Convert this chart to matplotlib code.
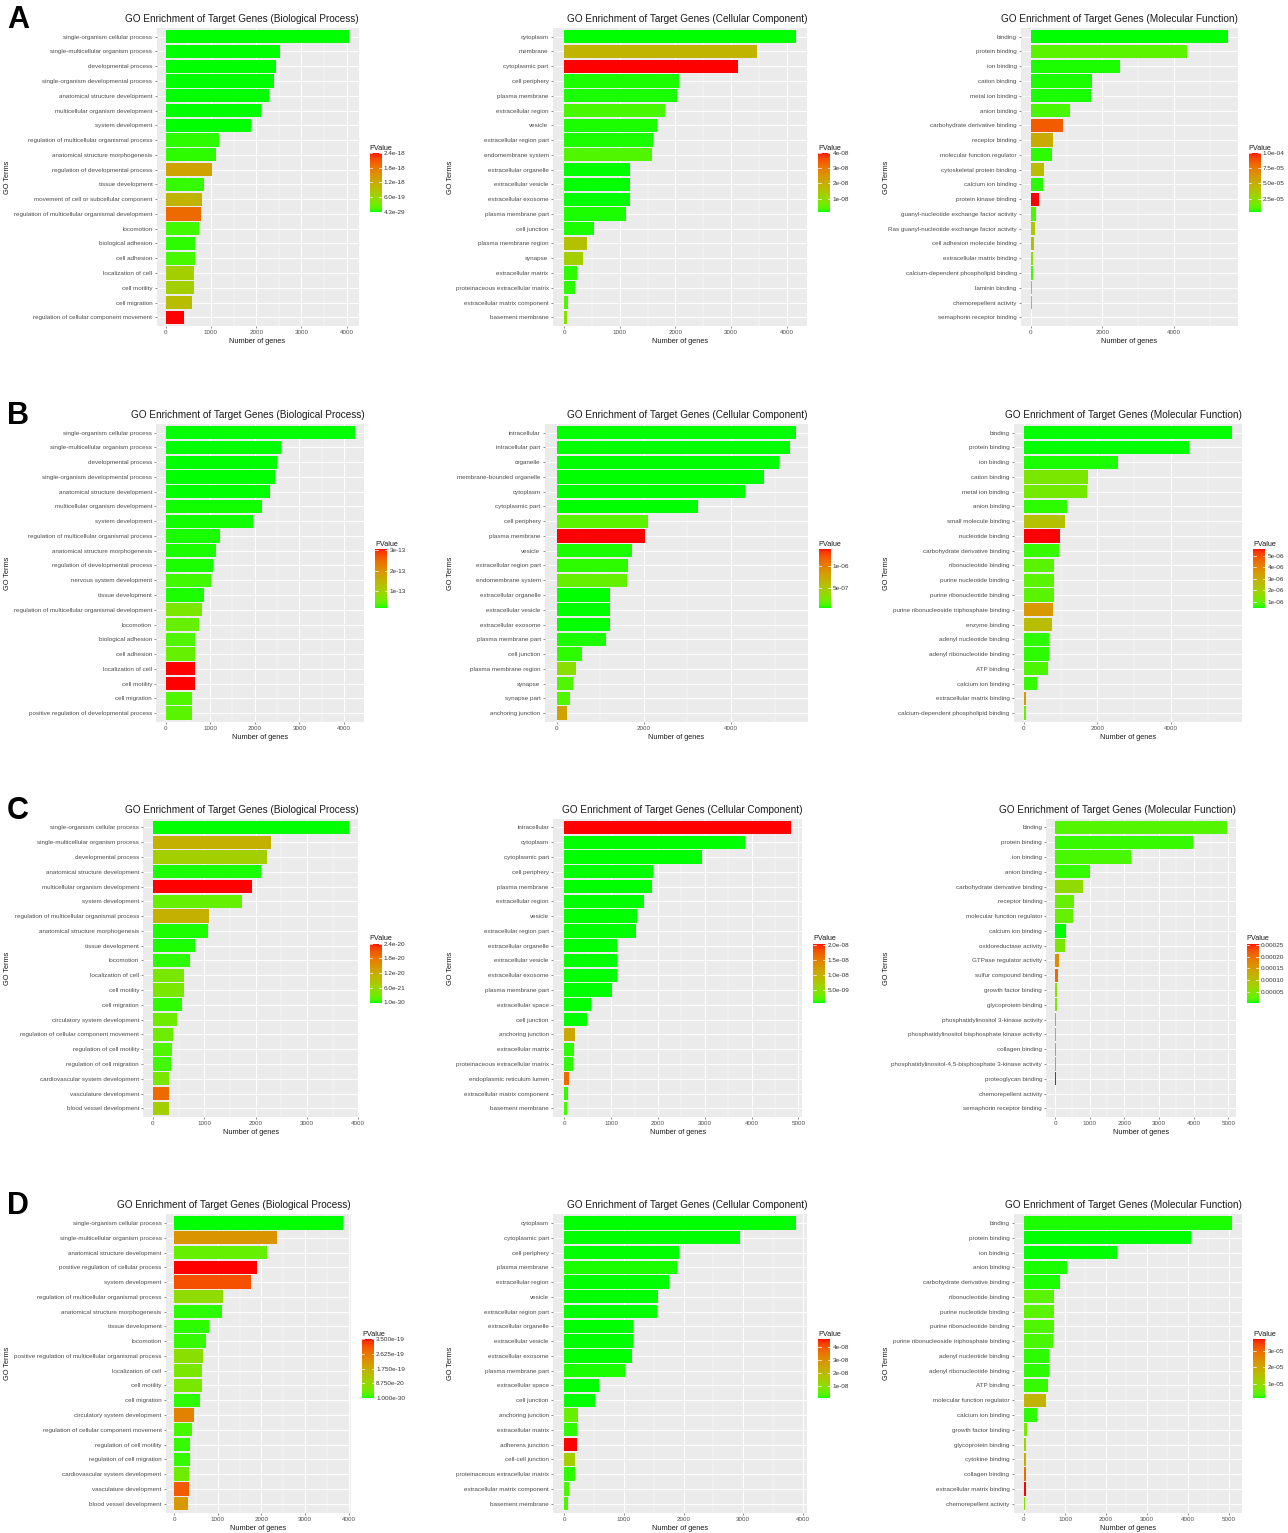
import numpy as np
import matplotlib
matplotlib.use('Agg')
import matplotlib.pyplot as plt
from matplotlib.colors import ListedColormap, Normalize
from matplotlib.cm import ScalarMappable
from matplotlib.ticker import MultipleLocator

plt.rcParams['font.family'] = ['Liberation Sans', 'DejaVu Sans']

# ---------------- data ----------------
# row A
a_bp_terms = ['single-organism cellular process', 'single-multicellular organism process', 'developmental process',
              'single-organism developmental process', 'anatomical structure development',
              'multicellular organism development', 'system development',
              'regulation of multicellular organismal process', 'anatomical structure morphogenesis',
              'regulation of developmental process', 'tissue development',
              'movement of cell or subcellular component', 'regulation of multicellular organismal development',
              'locomotion', 'biological adhesion', 'cell adhesion', 'localization of cell', 'cell motility',
              'cell migration', 'regulation of cellular component movement']
a_bp_genes = [4059, 2527, 2431, 2394, 2276, 2099, 1878, 1179, 1112, 1017, 847, 810, 788, 737, 648, 640, 636, 634, 582, 398]
a_bp_pvalue = [4.3e-29, 2.6e-27, 1.9e-26, 8.4e-26, 3.3e-25, 1.2e-24, 6.7e-23, 4.8e-20, 4.8e-20, 1.32e-18,
               7.2e-20, 1.08e-18, 1.92e-18, 9.6e-20, 4.8e-20, 1.2e-19, 7.2e-19, 7.2e-19, 9.6e-19, 2.4e-18]
a_bp_pticks = [2.4e-18, 1.8e-18, 1.2e-18, 6.0e-19, 4.3e-29]
a_bp_plabels = ['2.4e-18', '1.8e-18', '1.2e-18', '6.0e-19', '4.3e-29']

a_cc_terms = ['cytoplasm', 'membrane', 'cytoplasmic part', 'cell periphery', 'plasma membrane', 'extracellular region',
              'vesicle', 'extracellular region part', 'endomembrane system', 'extracellular organelle',
              'extracellular vesicle', 'extracellular exosome', 'plasma membrane part', 'cell junction',
              'plasma membrane region', 'synapse', 'extracellular matrix', 'proteinaceous extracellular matrix',
              'extracellular matrix component', 'basement membrane']
a_cc_genes = [4162, 3472, 3130, 2063, 2021, 1817, 1673, 1601, 1571, 1187, 1186, 1185, 1109, 540, 414, 342, 228, 192, 66, 54]
a_cc_pvalue = [1.3e-09, 1.87e-08, 4.0e-08, 1.7e-09, 1.7e-09, 3.2e-09, 1.7e-09, 1.7e-09, 3.6e-09, 1.31e-09,
               1.31e-09, 1.31e-09, 1.7e-09, 1.7e-09, 1.6e-08, 1.29e-08, 2.1e-09, 2.1e-09, 3.6e-09, 9.0e-09]
a_cc_pticks = [4e-08, 3e-08, 2e-08, 1e-08]
a_cc_plabels = ['4e-08', '3e-08', '2e-08', '1e-08']

a_mf_terms = ['binding', 'protein binding', 'ion binding', 'cation binding', 'metal ion binding', 'anion binding',
              'carbohydrate derivative binding', 'receptor binding', 'molecular function regulator',
              'cytoskeletal protein binding', 'calcium ion binding', 'protein kinase binding',
              'guanyl-nucleotide exchange factor activity', 'Ras guanyl-nucleotide exchange factor activity',
              'cell adhesion molecule binding', 'extracellular matrix binding',
              'calcium-dependent phospholipid binding', 'laminin binding', 'chemorepellent activity',
              'semaphorin receptor binding']
a_mf_genes = [5485, 4343, 2487, 1717, 1680, 1095, 891, 613, 585, 381, 353, 241, 158, 130, 93, 58, 52, 28, 27, 19]
a_mf_pvalue = [3.6e-06, 1.13e-05, 4.6e-06, 4.6e-06, 4.6e-06, 8.4e-06, 8.55e-05, 5.18e-05, 5.5e-06, 4.22e-05,
               5.5e-06, 1.0e-04, 8.4e-06, 3.73e-05, 4.22e-05, 2.29e-05, 8.4e-06, 3.25e-05, 3.25e-05, 3.73e-05]
a_mf_pticks = [1.0e-04, 7.5e-05, 5.0e-05, 2.5e-05]
a_mf_plabels = ['1.0e-04', '7.5e-05', '5.0e-05', '2.5e-05']

# row B
b_bp_terms = ['single-organism cellular process', 'single-multicellular organism process', 'developmental process',
              'single-organism developmental process', 'anatomical structure development',
              'multicellular organism development', 'system development',
              'regulation of multicellular organismal process', 'anatomical structure morphogenesis',
              'regulation of developmental process', 'nervous system development', 'tissue development',
              'regulation of multicellular organismal development', 'locomotion', 'biological adhesion',
              'cell adhesion', 'localization of cell', 'cell motility', 'cell migration',
              'positive regulation of developmental process']
b_bp_genes = [4247, 2579, 2490, 2452, 2340, 2153, 1951, 1219, 1129, 1054, 1009, 860, 807, 748, 652, 650, 650, 649, 598, 583]
b_bp_pvalue = [1.50e-14, 1.52e-14, 1.55e-14, 1.6e-14, 1.6e-14, 1.7e-14, 1.7e-14, 1.8e-14, 1.8e-14, 1.8e-14,
               2.7e-14, 1.8e-14, 5.9e-14, 4.4e-14, 3.3e-14, 4.4e-14, 3.08e-13, 3.08e-13, 3.3e-14, 3.8e-14]
b_bp_pticks = [3e-13, 2e-13, 1e-13]
b_bp_plabels = ['3e-13', '2e-13', '1e-13']

b_cc_terms = ['intracellular', 'intracellular part', 'organelle', 'membrane-bounded organelle', 'cytoplasm',
              'cytoplasmic part', 'cell periphery', 'plasma membrane', 'vesicle', 'extracellular region part',
              'endomembrane system', 'extracellular organelle', 'extracellular vesicle', 'extracellular exosome',
              'plasma membrane part', 'cell junction', 'plasma membrane region', 'synapse', 'synapse part',
              'anchoring junction']
b_cc_genes = [5484, 5354, 5094, 4765, 4314, 3250, 2088, 2034, 1721, 1629, 1606, 1231, 1230, 1229, 1124, 574, 436, 367, 306, 245]
b_cc_pvalue = [6.0e-08, 6.0e-08, 6.1e-08, 6.1e-08, 6.2e-08, 6.2e-08, 1.66e-07, 1.38e-06, 7.3e-08, 8.6e-08,
               1.92e-07, 6.1e-08, 6.1e-08, 6.1e-08, 7.3e-08, 8.6e-08, 3.24e-07, 1.39e-07, 1.39e-07, 7.86e-07]
b_cc_pticks = [1e-06, 5e-07]
b_cc_plabels = ['1e-06', '5e-07']

b_mf_terms = ['binding', 'protein binding', 'ion binding', 'cation binding', 'metal ion binding', 'anion binding',
              'small molecule binding', 'nucleotide binding', 'carbohydrate derivative binding',
              'ribonucleotide binding', 'purine nucleotide binding', 'purine ribonucleotide binding',
              'purine ribonucleoside triphosphate binding', 'enzyme binding', 'adenyl nucleotide binding',
              'adenyl ribonucleotide binding', 'ATP binding', 'calcium ion binding', 'extracellular matrix binding',
              'calcium-dependent phospholipid binding']
b_mf_genes = [5660, 4499, 2558, 1751, 1705, 1170, 1116, 989, 961, 818, 816, 814, 780, 762, 689, 671, 653, 345, 46, 44]
b_mf_pvalue = [5.0e-07, 5.1e-07, 5.5e-07, 1.27e-06, 1.16e-06, 6.0e-07, 2.44e-06, 5.6e-06, 6.5e-07, 9.1e-07,
               9.1e-07, 9.1e-07, 3.56e-06, 2.54e-06, 6.0e-07, 6.0e-07, 7.6e-07, 6.5e-07, 3.56e-06, 1.01e-06]
b_mf_pticks = [5e-06, 4e-06, 3e-06, 2e-06, 1e-06]
b_mf_plabels = ['5e-06', '4e-06', '3e-06', '2e-06', '1e-06']

# row C
c_bp_terms = ['single-organism cellular process', 'single-multicellular organism process', 'developmental process',
              'anatomical structure development', 'multicellular organism development', 'system development',
              'regulation of multicellular organismal process', 'anatomical structure morphogenesis',
              'tissue development', 'locomotion', 'localization of cell', 'cell motility', 'cell migration',
              'circulatory system development', 'regulation of cellular component movement',
              'regulation of cell motility', 'regulation of cell migration', 'cardiovascular system development',
              'vasculature development', 'blood vessel development']
c_bp_genes = [3818, 2305, 2227, 2097, 1922, 1727, 1097, 1065, 818, 714, 612, 610, 571, 461, 396, 364, 344, 320, 318, 312]
c_bp_pvalue = [1.0e-30, 1.13e-20, 7.2e-21, 2.4e-22, 2.4e-20, 2.4e-21, 1.13e-20, 2.4e-22, 2.4e-22, 4.8e-22,
               3.6e-21, 3.6e-21, 4.8e-22, 2.9e-21, 2.9e-21, 1.44e-21, 9.6e-22, 3.6e-21, 1.92e-20, 7.2e-21]
c_bp_pticks = [2.4e-20, 1.8e-20, 1.2e-20, 6.0e-21, 1.0e-30]
c_bp_plabels = ['2.4e-20', '1.8e-20', '1.2e-20', '6.0e-21', '1.0e-30']

c_cc_terms = ['intracellular', 'cytoplasm', 'cytoplasmic part', 'cell periphery', 'plasma membrane',
              'extracellular region', 'vesicle', 'extracellular region part', 'extracellular organelle',
              'extracellular vesicle', 'extracellular exosome', 'plasma membrane part', 'extracellular space',
              'cell junction', 'anchoring junction', 'extracellular matrix', 'proteinaceous extracellular matrix',
              'endoplasmic reticulum lumen', 'extracellular matrix component', 'basement membrane']
c_cc_genes = [4843, 3860, 2934, 1902, 1866, 1709, 1546, 1524, 1133, 1132, 1131, 1011, 563, 491, 221, 214, 178, 93, 71, 50]
c_cc_pvalue = [2.06e-08, 7.0e-10, 7.0e-10, 7.1e-10, 7.1e-10, 7.1e-10, 7.2e-10, 7.2e-10, 7.0e-10, 7.0e-10,
               7.0e-10, 7.3e-10, 7.2e-10, 7.3e-10, 1.105e-08, 1.1e-09, 1.1e-09, 1.66e-08, 1.3e-09, 1.7e-09]
c_cc_pticks = [2.0e-08, 1.5e-08, 1.0e-08, 5.0e-09]
c_cc_plabels = ['2.0e-08', '1.5e-08', '1.0e-08', '5.0e-09']

c_mf_terms = ['binding', 'protein binding', 'ion binding', 'anion binding', 'carbohydrate derivative binding',
              'receptor binding', 'molecular function regulator', 'calcium ion binding', 'oxidoreductase activity',
              'GTPase regulator activity', 'sulfur compound binding', 'growth factor binding',
              'glycoprotein binding', 'phosphatidylinositol 3-kinase activity',
              'phosphatidylinositol bisphosphate kinase activity', 'collagen binding',
              'phosphatidylinositol-4,5-bisphosphate 3-kinase activity', 'proteoglycan binding',
              'chemorepellent activity', 'semaphorin receptor binding']
c_mf_genes = [4962, 3971, 2192, 1000, 817, 558, 510, 317, 288, 125, 96, 58, 56, 38, 30, 29, 28, 19, 10, 10]
c_mf_pvalue = [2.13e-05, 1.12e-05, 1.63e-05, 1.12e-05, 5.93e-05, 2.89e-05, 2.89e-05, 3.6e-06, 4.16e-05, 1.68e-04,
               2.06e-04, 5.42e-05, 4.16e-05, 1.30e-04, 1.17e-04, 1.30e-04, 1.30e-04, 2.57e-04, 5.42e-05, 4.16e-05]
c_mf_pticks = [0.00025, 0.00020, 0.00015, 0.00010, 0.00005]
c_mf_plabels = ['0.00025', '0.00020', '0.00015', '0.00010', '0.00005']

# row D
d_bp_terms = ['single-organism cellular process', 'single-multicellular organism process',
              'anatomical structure development', 'positive regulation of cellular process', 'system development',
              'regulation of multicellular organismal process', 'anatomical structure morphogenesis',
              'tissue development', 'locomotion', 'positive regulation of multicellular organismal process',
              'localization of cell', 'cell motility', 'cell migration', 'circulatory system development',
              'regulation of cellular component movement', 'regulation of cell motility',
              'regulation of cell migration', 'cardiovascular system development', 'vasculature development',
              'blood vessel development']
d_bp_genes = [3855, 2347, 2133, 1890, 1752, 1128, 1105, 808, 724, 663, 634, 632, 594, 465, 411, 373, 366, 336, 335, 328]
d_bp_pvalue = [1.0e-30, 2.17e-19, 3.5e-20, 3.5e-19, 3.08e-19, 7.7e-20, 7.0e-21, 7.0e-21, 1.05e-20, 7.0e-20,
               5.25e-20, 5.25e-20, 7.0e-21, 2.45e-19, 1.75e-20, 1.05e-20, 1.05e-20, 4.2e-20, 2.98e-19, 2.1e-19]
d_bp_pticks = [3.5e-19, 2.625e-19, 1.75e-19, 8.75e-20, 1.0e-30]
d_bp_plabels = ['3.500e-19', '2.625e-19', '1.750e-19', '8.750e-20', '1.000e-30']

d_cc_terms = ['cytoplasm', 'cytoplasmic part', 'cell periphery', 'plasma membrane', 'extracellular region',
              'vesicle', 'extracellular region part', 'extracellular organelle', 'extracellular vesicle',
              'extracellular exosome', 'plasma membrane part', 'extracellular space', 'cell junction',
              'anchoring junction', 'extracellular matrix', 'adherens junction', 'cell-cell junction',
              'proteinaceous extracellular matrix', 'extracellular matrix component', 'basement membrane']
d_cc_genes = [3883, 2948, 1930, 1885, 1762, 1572, 1550, 1147, 1146, 1141, 1024, 576, 509, 229, 218, 217, 186, 185, 73, 56]
d_cc_pvalue = [1.0e-09, 1.0e-09, 1.0e-09, 1.5e-09, 1.0e-09, 1.0e-09, 1.0e-09, 1.0e-09, 1.0e-09, 1.0e-09,
               1.5e-09, 1.0e-09, 1.0e-09, 5.5e-09, 1.9e-09, 4.6e-08, 1.45e-08, 1.9e-09, 3.3e-09, 3.3e-09]
d_cc_pticks = [4e-08, 3e-08, 2e-08, 1e-08]
d_cc_plabels = ['4e-08', '3e-08', '2e-08', '1e-08']

d_mf_terms = ['binding', 'protein binding', 'ion binding', 'anion binding', 'carbohydrate derivative binding',
              'ribonucleotide binding', 'purine nucleotide binding', 'purine ribonucleotide binding',
              'purine ribonucleoside triphosphate binding', 'adenyl nucleotide binding',
              'adenyl ribonucleotide binding', 'ATP binding', 'molecular function regulator', 'calcium ion binding',
              'growth factor binding', 'glycoprotein binding', 'cytokine binding', 'collagen binding',
              'extracellular matrix binding', 'chemorepellent activity']
d_mf_genes = [5073, 4073, 2260, 1049, 886, 734, 732, 730, 715, 618, 602, 585, 545, 325, 65, 57, 49, 42, 41, 16]
d_mf_pvalue = [1.8e-06, 1.4e-06, 1.4e-06, 1.8e-06, 1.8e-06, 4.2e-06, 4.2e-06, 3.5e-06, 3.2e-06, 2.1e-06,
               2.1e-06, 2.5e-06, 1.74e-05, 2.1e-06, 6.7e-06, 1.03e-05, 1.92e-05, 2.99e-05, 3.7e-05, 8.5e-06]
d_mf_pticks = [3e-05, 2e-05, 1e-05]
d_mf_plabels = ['3e-05', '2e-05', '1e-05']

titles = ['GO Enrichment of Target Genes (Biological Process)',
          'GO Enrichment of Target Genes (Cellular Component)',
          'GO Enrichment of Target Genes (Molecular Function)']
row_letters = ['A', 'B', 'C', 'D']

# ---------------- layout (pixels) ----------------
W, H = 1288, 1533
row_pos = [(19.3, 27.8, 326.2), (415, 423.8, 721.9), (810, 818.5, 1117.2), (1205, 1214.1, 1512.5)]
col_pos = [[(156.5, 358.5), (552.7, 807.3), (1020.8, 1237.5)],
           [(156.2, 364.3), (544.7, 807.7), (1013.6, 1242.3)],
           [(143.2, 358.7), (553.0, 802.3), (1046.4, 1235.6)],
           [(165.6, 351.0), (552.8, 807.3), (1013.6, 1242.3)]]
ylab_x = [8, 451, 886]
steps = [[1000, 1000, 2000], [1000, 2000, 2000], [1000, 1000, 1000], [1000, 1000, 1000]]

panels = [
    [(a_bp_terms, a_bp_genes, a_bp_pvalue, a_bp_pticks, a_bp_plabels),
     (a_cc_terms, a_cc_genes, a_cc_pvalue, a_cc_pticks, a_cc_plabels),
     (a_mf_terms, a_mf_genes, a_mf_pvalue, a_mf_pticks, a_mf_plabels)],
    [(b_bp_terms, b_bp_genes, b_bp_pvalue, b_bp_pticks, b_bp_plabels),
     (b_cc_terms, b_cc_genes, b_cc_pvalue, b_cc_pticks, b_cc_plabels),
     (b_mf_terms, b_mf_genes, b_mf_pvalue, b_mf_pticks, b_mf_plabels)],
    [(c_bp_terms, c_bp_genes, c_bp_pvalue, c_bp_pticks, c_bp_plabels),
     (c_cc_terms, c_cc_genes, c_cc_pvalue, c_cc_pticks, c_cc_plabels),
     (c_mf_terms, c_mf_genes, c_mf_pvalue, c_mf_pticks, c_mf_plabels)],
    [(d_bp_terms, d_bp_genes, d_bp_pvalue, d_bp_pticks, d_bp_plabels),
     (d_cc_terms, d_cc_genes, d_cc_pvalue, d_cc_pticks, d_cc_plabels),
     (d_mf_terms, d_mf_genes, d_mf_pvalue, d_mf_pticks, d_mf_plabels)],
]


# green -> red gradient interpolated in Lab space, like ggplot's scale_fill_gradient
def lab_gradient(c0, c1, n=256):
    M = np.array([[0.4124, 0.3576, 0.1805], [0.2126, 0.7152, 0.0722], [0.0193, 0.1192, 0.9505]])
    wp = np.array([0.95047, 1.0, 1.08883])
    d = 6 / 29

    def to_lab(rgb):
        rgb = np.asarray(rgb, float)
        lin = np.where(rgb <= 0.04045, rgb / 12.92, ((rgb + 0.055) / 1.055) ** 2.4)
        xyz = M @ lin / wp
        f = np.where(xyz > d ** 3, np.cbrt(xyz), xyz / (3 * d * d) + 4 / 29)
        return np.array([116 * f[1] - 16, 500 * (f[0] - f[1]), 200 * (f[1] - f[2])])

    def to_rgb(lab):
        fy = (lab[0] + 16) / 116
        f = np.array([fy + lab[1] / 500, fy, fy - lab[2] / 200])
        xyz = np.where(f > d, f ** 3, 3 * d * d * (f - 4 / 29)) * wp
        lin = np.clip(np.linalg.solve(M, xyz), 0, 1)
        return np.where(lin <= 0.0031308, 12.92 * lin, 1.055 * lin ** (1 / 2.4) - 0.055)

    l0, l1 = to_lab(c0), to_lab(c1)
    cols = [np.clip(to_rgb(l0 + t * (l1 - l0)), 0, 1) for t in np.linspace(0, 1, n)]
    return ListedColormap(cols)


cmap = lab_gradient((0, 1, 0), (1, 0, 0))


def box(l, t, r, b):
    return [l / W, 1 - b / H, (r - l) / W, (b - t) / H]


fig = plt.figure(figsize=(W / 100, H / 100), dpi=100)

for ri in range(4):
    ty, top, bot = row_pos[ri]
    fig.text(7 / W, 1 - (ty + 1) / H, row_letters[ri], fontsize=22, fontweight='bold', ha='left', va='center')
    for ci in range(3):
        terms, genes, pval, pticks, plabels = panels[ri][ci]
        l, r = col_pos[ri][ci]
        ax = fig.add_axes(box(l, top, r, bot))
        ax.set_facecolor('#EBEBEB')
        n = len(terms)
        y = np.arange(n)[::-1]
        norm = Normalize(min(pval), max(pval))
        ax.barh(y, genes, height=0.9, color=cmap(norm(np.array(pval))), zorder=3)
        xmax = max(genes)
        ax.set_xlim(-0.05 * xmax, 1.05 * xmax)
        ax.set_ylim(-0.6, n - 0.4)
        ax.set_yticks(y)
        ax.set_yticklabels(terms)
        ax.xaxis.set_major_locator(MultipleLocator(steps[ri][ci]))
        ax.xaxis.set_minor_locator(MultipleLocator(steps[ri][ci] / 2))
        ax.grid(which='major', color='white', lw=0.7)
        ax.grid(which='minor', axis='x', color='white', lw=0.35)
        ax.set_axisbelow(True)
        for s in ax.spines.values():
            s.set_visible(False)
        ax.tick_params(length=1.5, width=0.4, color='#333333', pad=1.5, labelsize=4.5, labelcolor='#4D4D4D')
        ax.tick_params(which='minor', length=0)

        fig.text(r / W, 1 - ty / H, titles[ci], fontsize=7.2, ha='right', va='center', color='#1A1A1A')
        fig.text((l + r) / 2 / W, 1 - (bot + 15.5) / H, 'Number of genes', fontsize=5.3,
                 ha='center', va='center', color='#1A1A1A')
        fig.text(ylab_x[ci] / W, 1 - (top + bot) / 2 / H, 'GO Terms', fontsize=5.3, rotation=90,
                 ha='center', va='center', color='#1A1A1A')

        # colour bar legend
        cax = fig.add_axes(box(r + 11, top + 125, r + 23, top + 184))
        cb = fig.colorbar(ScalarMappable(norm=norm, cmap=cmap), cax=cax)
        cb.outline.set_visible(False)
        cb.set_ticks(pticks)
        cb.set_ticklabels(plabels)
        cax.tick_params(length=0, labelsize=4.6, pad=1.5, labelcolor='#333333')
        for t in pticks:
            cax.axhline(t, 0, 0.2, color='white', lw=0.5)
            cax.axhline(t, 0.8, 1, color='white', lw=0.5)
        fig.text((r + 11) / W, 1 - (top + 124) / H, 'PValue', fontsize=5.2, ha='left', va='bottom',
                 color='#1A1A1A')

fig.savefig('out.png', dpi=100)
